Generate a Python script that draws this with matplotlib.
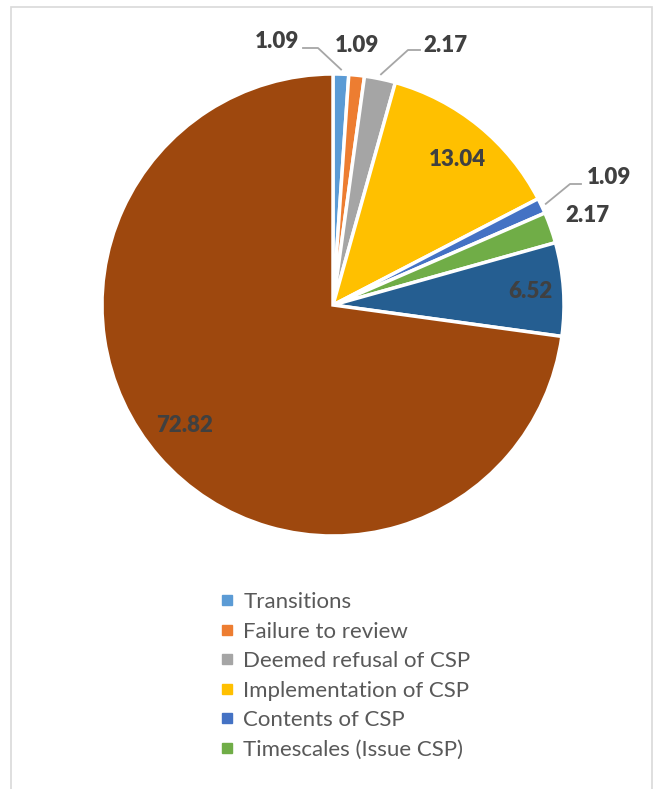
import numpy as np
import matplotlib.pyplot as plt
from matplotlib.lines import Line2D
from matplotlib.patches import Rectangle

categories = ["Transitions", "Failure to review", "Deemed refusal of CSP",
              "Implementation of CSP", "Contents of CSP", "Timescales (Issue CSP)",
              "Other CSP", "Other"]
values = [1.09, 1.09, 2.17, 13.04, 1.09, 2.17, 6.52, 72.82]
colors = ["#5B9BD5", "#ED7D31", "#A5A5A5", "#FFC000", "#4472C4", "#70AD47",
          "#255E91", "#9E480E"]
n_legend = 6

W, H = 659, 789
fig = plt.figure(figsize=(W / 100, H / 100), dpi=100)

# light grey chart-area border (runs off the bottom)
fig.patches.append(Rectangle((11 / W, -0.1), (652 - 11) / W, (782 + 79) / H + 0.0,
                             transform=fig.transFigure, fill=False,
                             edgecolor="#D9D9D9", linewidth=1.2))

cx, cy, R = 333, 305, 231
ax = fig.add_axes([(cx - R) / W, (H - cy - R) / H, 2 * R / W, 2 * R / H])
wedges, _ = ax.pie(values, colors=colors, startangle=90, counterclock=False,
                   radius=1, wedgeprops=dict(edgecolor="white", linewidth=2.5))
ax.set_xlim(-1, 1)
ax.set_ylim(-1, 1)
ax.set_aspect("equal")
ax.axis("off")

lab = dict(fontsize=16, fontweight="heavy", color="#404040", family="Lato",
           ha="center", va="center")

def px(x, y):
    return (x - cx) / R, (cy - y) / R

def mid_point(i, r=1.0):
    w = wedges[i]
    a = np.deg2rad((w.theta1 + w.theta2) / 2)
    return r * np.cos(a), r * np.sin(a)

# label positions (pixel space of the figure)
label_pos = {0: (277, 42), 1: (357, 45), 2: (445, 45), 3: (457, 160),
             4: (609, 178), 5: (587, 216), 6: (530, 292), 7: (185, 425)}
for i, (x, y) in label_pos.items():
    ax.text(*px(x, y), f"{values[i]:.2f}", **lab)

# leader lines: text end -> elbow -> wedge edge
leaders = {0: [(303, 48), (318, 48)], 2: [(420, 50), (408, 50)],
           4: [(581, 184), (570, 184)]}
for i, pts in leaders.items():
    xs = [px(*p)[0] for p in pts]
    ys = [px(*p)[1] for p in pts]
    ex, ey = mid_point(i, 1.02)
    ax.plot(xs + [ex], ys + [ey], color="#A6A6A6", lw=1.3, clip_on=False)

handles = [Line2D([], [], marker="s", linestyle="none", markersize=6.5,
                  markerfacecolor=c, markeredgecolor=c) for c in colors[:n_legend]]
leg = fig.legend(handles, categories[:n_legend], loc="upper left",
                 bbox_to_anchor=(219 / W, (H - 592) / H), frameon=False,
                 prop=dict(family="Lato", size=16), handlelength=0.7,
                 handletextpad=0.4, labelspacing=0.43, borderpad=0,
                 borderaxespad=0)
for t in leg.get_texts():
    t.set_color("#595959")

fig.savefig("out.png", dpi=100, facecolor="white")
